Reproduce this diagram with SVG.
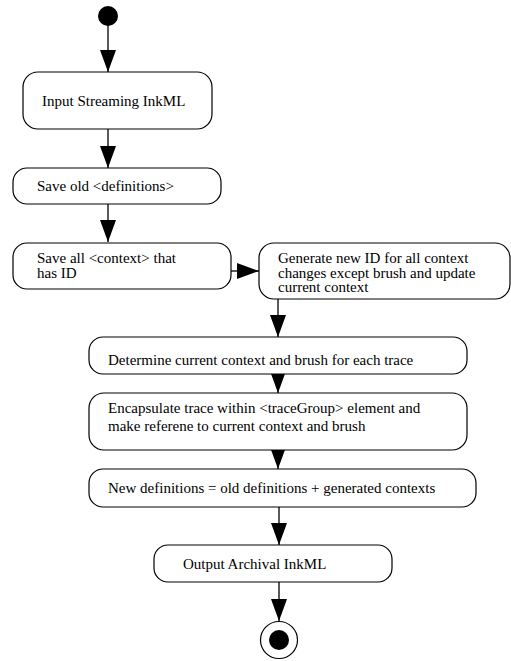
<svg xmlns="http://www.w3.org/2000/svg" width="511" height="661" viewBox="0 0 511 661">
<style>
.box{fill:#fff;stroke:#000;stroke-width:1.2}
.t{font-family:"Liberation Serif","Times New Roman",serif;font-size:15px;fill:#000}
.ln{stroke:#000;stroke-width:1.3;fill:none}
</style>
<defs>
<marker id="ah" markerWidth="22" markerHeight="16" refX="22" refY="8" viewBox="0 0 22 16" markerUnits="userSpaceOnUse" orient="auto">
<path d="M0,0 L22,8 L0,16 Z" fill="#000"/>
</marker>
</defs>
<rect width="511" height="661" fill="#fff"/>
<g id="connectors">
<line class="ln" x1="108" y1="24" x2="108" y2="72" marker-end="url(#ah)"/>
<line class="ln" x1="108" y1="129" x2="108" y2="168" marker-end="url(#ah)"/>
<line class="ln" x1="108" y1="204" x2="108" y2="242" marker-end="url(#ah)"/>
<line class="ln" x1="231" y1="271" x2="259" y2="271" marker-end="url(#ah)"/>
<line class="ln" x1="278" y1="299" x2="278" y2="337" marker-end="url(#ah)"/>
<line class="ln" x1="278" y1="374" x2="278" y2="393" marker-end="url(#ah)"/>
<line class="ln" x1="278" y1="450" x2="278" y2="469" marker-end="url(#ah)"/>
<line class="ln" x1="279" y1="507" x2="279" y2="545" marker-end="url(#ah)"/>
<line class="ln" x1="279" y1="582" x2="279" y2="621" marker-end="url(#ah)"/>
</g>
<g id="start"><circle cx="108" cy="16" r="10" fill="#000"/></g>
<g id="n1"><rect class="box" x="23" y="72" width="189" height="57" rx="15"/><text class="t" x="42" y="106">Input Streaming InkML</text></g>
<g id="n2"><rect class="box" x="13" y="168" width="208" height="36" rx="14"/><text class="t" x="37" y="191">Save old &lt;definitions&gt;</text></g>
<g id="n3"><rect class="box" x="13" y="243" width="218" height="46" rx="14"/><text class="t" x="37" y="263">Save all &lt;context&gt; that</text><text class="t" x="37" y="277.5">has ID</text></g>
<g id="n4"><rect class="box" x="259" y="243" width="251" height="56" rx="15"/><text class="t" x="278" y="263">Generate new ID for all context</text><text class="t" x="278" y="277.5">changes except brush and update</text><text class="t" x="278" y="292">current context</text></g>
<g id="n5"><rect class="box" x="89" y="337" width="378" height="37" rx="14"/><text class="t" x="108" y="365">Determine current context and brush for each trace</text></g>
<g id="n6"><rect class="box" x="89" y="393" width="378" height="57" rx="15"/><text class="t" x="108" y="413">Encapsulate trace within &lt;traceGroup&gt; element and</text><text class="t" x="108" y="431">make referene to current context and brush</text></g>
<g id="n7"><rect class="box" x="89" y="469" width="387" height="38" rx="14"/><text class="t" x="108" y="493">New definitions = old definitions + generated contexts</text></g>
<g id="n8"><rect class="box" x="154" y="545" width="238" height="37" rx="14"/><text class="t" x="183" y="569">Output Archival InkML</text></g>
<g id="end"><circle cx="279" cy="640" r="18.5" fill="#fff" stroke="#000" stroke-width="1.2"/><circle cx="279" cy="640" r="10" fill="#000"/></g>
</svg>
